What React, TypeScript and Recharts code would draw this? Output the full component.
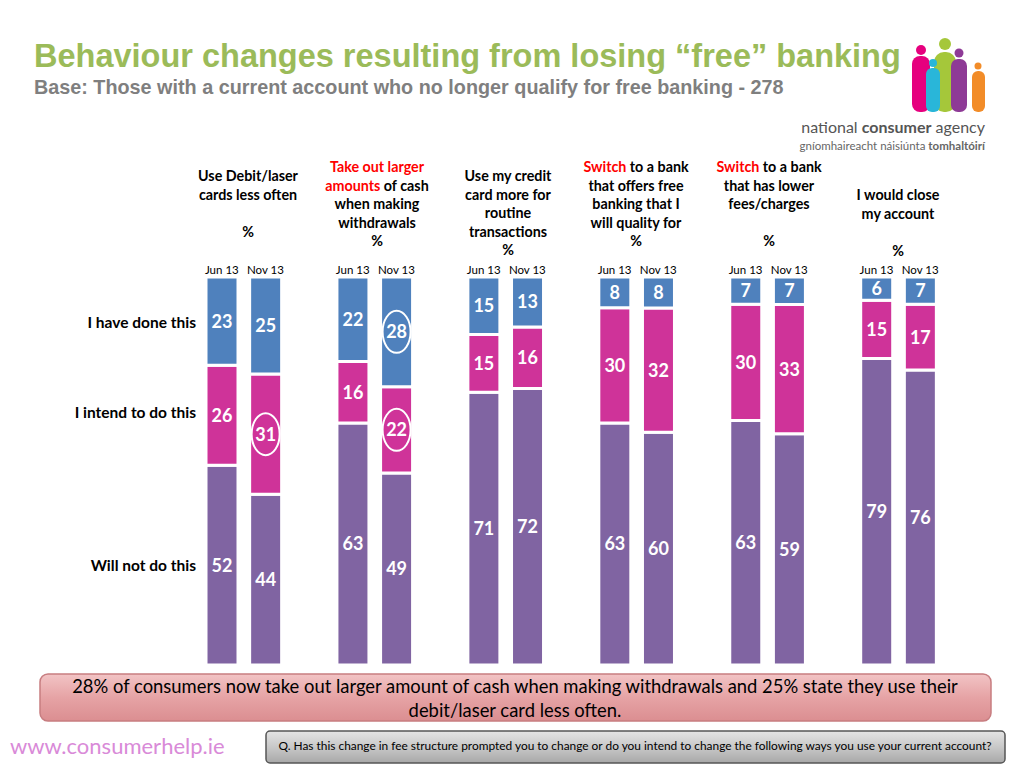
import React from 'react';
import { BarChart, Bar, XAxis, YAxis, LabelList } from 'recharts';

// 17 slots: Jun 13 / Nov 13 pairs separated by empty gap slots
const slots = ['g1j', 'g1n', 's1', 'g2j', 'g2n', 's2', 'g3j', 'g3n', 's3', 'g4j', 'g4n', 's4', 'g5j', 'g5n', 's5', 'g6j', 'g6n'];
const periods = ['Jun 13', 'Nov 13', '', 'Jun 13', 'Nov 13', '', 'Jun 13', 'Nov 13', '', 'Jun 13', 'Nov 13', '', 'Jun 13', 'Nov 13', '', 'Jun 13', 'Nov 13'];
const haveDone = [23, 25, null, 22, 28, null, 15, 13, null, 8, 8, null, 7, 7, null, 6, 7];
const intendTo = [26, 31, null, 16, 22, null, 15, 16, null, 30, 32, null, 30, 33, null, 15, 17];
const willNot = [52, 44, null, 63, 49, null, 71, 72, null, 63, 60, null, 63, 59, null, 79, 76];
const circledDone = [false, false, false, false, true, false, false, false, false, false, false, false, false, false, false, false, false];
const circledIntend = [false, true, false, false, true, false, false, false, false, false, false, false, false, false, false, false, false];
const circledNot = slots.map(() => false);

const groupHeaders: { lines: { parts: { t: string; red?: boolean }[] }[]; top: number }[] = [
  { top: 176, lines: [{ parts: [{ t: 'Use Debit/laser' }] }, { parts: [{ t: 'cards less often' }] }, { parts: [{ t: '' }] }, { parts: [{ t: '%' }] }] },
  { top: 167, lines: [{ parts: [{ t: 'Take out larger', red: true }] }, { parts: [{ t: 'amounts', red: true }, { t: ' of cash' }] }, { parts: [{ t: 'when making' }] }, { parts: [{ t: 'withdrawals' }] }, { parts: [{ t: '%' }] }] },
  { top: 176, lines: [{ parts: [{ t: 'Use my credit' }] }, { parts: [{ t: 'card more for' }] }, { parts: [{ t: 'routine' }] }, { parts: [{ t: 'transactions' }] }, { parts: [{ t: '%' }] }] },
  { top: 167, lines: [{ parts: [{ t: 'Switch', red: true }, { t: ' to a bank' }] }, { parts: [{ t: 'that offers free' }] }, { parts: [{ t: 'banking that I' }] }, { parts: [{ t: 'will quality for' }] }, { parts: [{ t: '%' }] }] },
  { top: 167, lines: [{ parts: [{ t: 'Switch', red: true }, { t: ' to a bank' }] }, { parts: [{ t: 'that has lower' }] }, { parts: [{ t: 'fees/charges' }] }, { parts: [{ t: '' }] }, { parts: [{ t: '%' }] }] },
  { top: 195, lines: [{ parts: [{ t: 'I would close' }] }, { parts: [{ t: 'my account' }] }, { parts: [{ t: '' }] }, { parts: [{ t: '%' }] }] },
];
const groupCenters = [248, 377, 508, 636, 769, 898];
const rowLabels = [
  { t: 'I have done this', y: 323 },
  { t: 'I intend to do this', y: 413 },
  { t: 'Will not do this', y: 566 },
];

const data = slots.map((k, i) => ({
  key: k,
  period: periods[i],
  done: haveDone[i],
  intend: intendTo[i],
  not: willNot[i],
}));

const FONT = 'Lato, "Open Sans", sans-serif';

const makeLabel = (flags: boolean[], dataArr: (number | null)[]) => {
  // Recharts passes the index among drawn (non-empty) bars
  const drawn = dataArr.map((v, i) => (v == null ? -1 : i)).filter((i) => i >= 0);
  return (props: any) => {
    const { x, y, width, height, index } = props;
    const src = drawn[index];
    if (src == null) return null;
    const value = dataArr[src];
    const cx = Number(x) + Number(width) / 2;
    const cy = Number(y) + Number(height) / 2;
    return (
      <g>
        {flags[src] && (
          <ellipse cx={cx} cy={cy} rx={14} ry={21} fill="none" stroke="#fff" strokeWidth={2} />
        )}
        <text x={cx} y={cy} dy={6.5} textAnchor="middle" fill="#fff" fontWeight={700} fontSize={18} fontFamily={FONT}>
          {value}
        </text>
      </g>
    );
  };
};

const PeriodTick = (props: any) => {
  const { x, y, index } = props;
  const t = periods[index];
  if (!t) return null;
  return (
    <text x={x} y={y} dy={5} textAnchor="middle" fontSize={11.5} fill="#000" fontFamily={FONT}>
      {t}
    </text>
  );
};

export default function App() {
  return (
    <div style={{ position: 'absolute', left: 0, top: 0, width: 1024, height: 768, background: '#fff', fontFamily: FONT }}>
      <BarChart
        width={1024}
        height={768}
        data={data}
        stackOffset="expand"
        margin={{ top: 257, bottom: 103, left: 200, right: 82 }}
        barSize={32}
      >
        <XAxis dataKey="key" orientation="top" height={20} axisLine={false} tickLine={false} tick={<PeriodTick />} interval={0} />
        <YAxis hide domain={[0, 1]} />
        <Bar dataKey="not" stackId="a" fill="#8064A2" stroke="#fff" strokeWidth={3} isAnimationActive={false}>
          <LabelList dataKey="not" content={makeLabel(circledNot, willNot)} />
        </Bar>
        <Bar dataKey="intend" stackId="a" fill="#CF3399" stroke="#fff" strokeWidth={3} isAnimationActive={false}>
          <LabelList dataKey="intend" content={makeLabel(circledIntend, intendTo)} />
        </Bar>
        <Bar dataKey="done" stackId="a" fill="#4F81BD" stroke="#fff" strokeWidth={3} isAnimationActive={false}>
          <LabelList dataKey="done" content={makeLabel(circledDone, haveDone)} />
        </Bar>
      </BarChart>

      <svg width={1024} height={768} style={{ position: 'absolute', left: 0, top: 0, pointerEvents: 'none' }}>
        <text x={34} y={67} fontFamily='"Liberation Sans", Arial, sans-serif' fontWeight={700} fontSize={32.5} fill="#9BBB59">
          Behaviour changes resulting from losing “free” banking
        </text>
        <text x={34} y={94} fontFamily='"Liberation Sans", Arial, sans-serif' fontWeight={700} fontSize={19.8} fill="#7F7F7F">
          Base: Those with a current account who no longer qualify for free banking - 278
        </text>

        {/* logo */}
        <g>
          <circle cx={921} cy={50} r={5} fill="#E6007E" />
          <rect x={912} y={56} width={18} height={56} rx={8} fill="#E6007E" />
          <circle cx={945} cy={44} r={6} fill="#A5C73A" />
          <rect x={934} y={52} width={22} height={60} rx={10} fill="#A5C73A" />
          <circle cx={933} cy={63} r={4} fill="#29B6D9" />
          <rect x={926} y={68} width={14} height={44} rx={6} fill="#29B6D9" />
          <circle cx={959} cy={53} r={4.5} fill="#8E3A96" />
          <rect x={951} y={59} width={16} height={53} rx={7} fill="#8E3A96" />
          <circle cx={978} cy={66} r={3.5} fill="#F28C28" />
          <rect x={972} y={71} width={13} height={41} rx={6} fill="#F28C28" />
        </g>
        <text x={985} y={133} textAnchor="end" fontFamily={FONT} fontSize={16} fill="#555">
          national <tspan fontWeight={700}>consumer</tspan> agency
        </text>
        <text x={985} y={150} textAnchor="end" fontFamily={FONT} fontSize={11.5} fill="#666">
          gníomhaireacht náisiúnta <tspan fontWeight={700}>tomhaltóirí</tspan>
        </text>

        {groupHeaders.map((g, gi) => (
          <g key={gi}>
            {g.lines.map((ln, li) => (
              <text key={li} x={groupCenters[gi]} y={g.top + li * 18.6 + 5} textAnchor="middle" fontFamily={FONT} fontWeight={700} fontSize={14.3} fill="#000">
                {ln.parts.map((p, pi) => (
                  <tspan key={pi} fill={p.red ? '#FF0000' : '#000'}>{p.t}</tspan>
                ))}
              </text>
            ))}
          </g>
        ))}

        {rowLabels.map((r, i) => (
          <text key={i} x={196} y={r.y + 5} textAnchor="end" fontFamily={FONT} fontWeight={700} fontSize={15.5} fill="#000">
            {r.t}
          </text>
        ))}

        <defs>
          <linearGradient id="pinkG" x1="0" y1="0" x2="0" y2="1">
            <stop offset="0" stopColor="#F2C4C5" />
            <stop offset="0.5" stopColor="#E6A3A5" />
            <stop offset="1" stopColor="#DB8E91" />
          </linearGradient>
          <linearGradient id="greyG" x1="0" y1="0" x2="0" y2="1">
            <stop offset="0" stopColor="#E4E4E4" />
            <stop offset="0.5" stopColor="#C8C8C8" />
            <stop offset="1" stopColor="#A8A8A8" />
          </linearGradient>
        </defs>
        <rect x={40} y={674} width={951} height={47} rx={8} fill="url(#pinkG)" stroke="#C77D80" strokeWidth={1.5} />
        <text x={515} y={693} textAnchor="middle" fontFamily={FONT} fontSize={18.4} fill="#000">
          28% of consumers now take out larger amount of cash when making withdrawals and 25% state they use their
        </text>
        <text x={515} y={717} textAnchor="middle" fontFamily={FONT} fontSize={18.4} fill="#000">
          debit/laser card less often.
        </text>

        <text x={10} y={754} fontFamily={FONT} fontSize={22} fill="#D98AD8">
          www.consumerhelp.ie
        </text>
        <rect x={266} y={731} width={739} height={32} rx={4} fill="url(#greyG)" stroke="#555" strokeWidth={1.5} />
        <text x={635} y={750} textAnchor="middle" fontFamily={FONT} fontSize={11.9} fill="#000">
          Q. Has this change in fee structure prompted you to change or do you intend to change the following ways you use your current account?
        </text>
      </svg>
    </div>
  );
}
